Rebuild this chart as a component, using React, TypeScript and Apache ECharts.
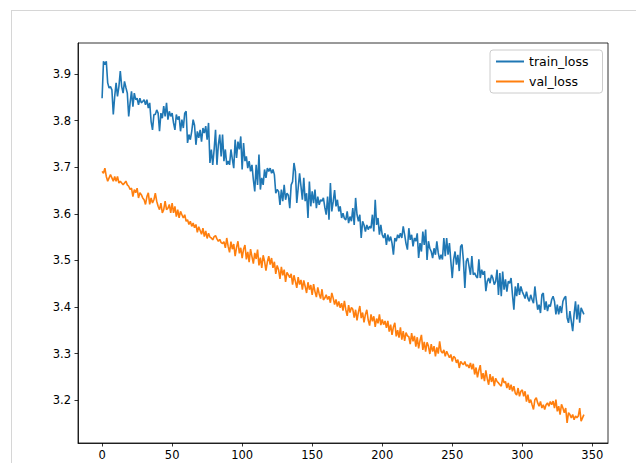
import React, { useEffect, useRef } from "react";
import * as echarts from "echarts";

const trainLoss: number[] = [
  3.848, 3.927, 3.920, 3.927, 3.881, 3.870, 3.873, 3.866, 3.813, 3.852, 3.881, 3.852, 3.873, 3.906, 3.873, 3.859, 3.884, 3.871, 3.859, 3.809, 3.838, 3.863, 3.830, 3.859, 3.845, 3.848, 3.834, 3.848, 3.838, 3.841, 3.845, 3.834, 3.845, 3.827, 3.838, 3.798, 3.780, 3.813,
  3.813, 3.823, 3.816, 3.777, 3.816, 3.805, 3.831, 3.809, 3.838, 3.802, 3.820, 3.809, 3.816, 3.795, 3.780, 3.813, 3.802, 3.809, 3.777, 3.802, 3.784, 3.816, 3.820, 3.752, 3.770, 3.759, 3.777, 3.802, 3.790, 3.748, 3.777, 3.763, 3.780, 3.755, 3.784, 3.773, 3.788, 3.759, 3.795, 3.709,
  3.738, 3.705, 3.738, 3.780, 3.705, 3.748, 3.770, 3.723, 3.770, 3.713, 3.738, 3.705, 3.713, 3.705, 3.738, 3.717, 3.698, 3.759, 3.720, 3.755, 3.738, 3.766, 3.695, 3.752, 3.713, 3.723, 3.698, 3.713, 3.691, 3.705, 3.673, 3.648, 3.705, 3.662, 3.727, 3.652, 3.677, 3.662, 3.695, 3.677, 3.698,
  3.691, 3.698, 3.687, 3.695, 3.684, 3.644, 3.652, 3.648, 3.619, 3.652, 3.627, 3.662, 3.630, 3.644, 3.640, 3.612, 3.662, 3.669, 3.709, 3.691, 3.623, 3.655, 3.687, 3.659, 3.630, 3.677, 3.627, 3.644, 3.591, 3.669, 3.616, 3.648, 3.623, 3.652, 3.612, 3.637, 3.619, 3.630, 3.627, 3.634,
  3.614, 3.598, 3.637, 3.587, 3.666, 3.605, 3.626, 3.651, 3.616, 3.630, 3.605, 3.616, 3.591, 3.601, 3.590, 3.587, 3.605, 3.580, 3.594, 3.584, 3.612, 3.576, 3.634, 3.598, 3.584, 3.598, 3.548, 3.584, 3.576, 3.562, 3.576, 3.566, 3.573, 3.569, 3.598, 3.562, 3.630, 3.576, 3.591, 3.555, 3.576,
  3.555, 3.548, 3.558, 3.533, 3.555, 3.541, 3.551, 3.537, 3.512, 3.548, 3.541, 3.555, 3.548, 3.558, 3.548, 3.573, 3.555, 3.536, 3.523, 3.569, 3.544, 3.555, 3.530, 3.548, 3.541, 3.558, 3.505, 3.537, 3.519, 3.562, 3.533, 3.566, 3.501, 3.541, 3.526, 3.519, 3.505, 3.526, 3.512, 3.541, 3.516,
  3.502, 3.512, 3.502, 3.548, 3.509, 3.548, 3.512, 3.537, 3.498, 3.462, 3.502, 3.519, 3.491, 3.512, 3.477, 3.530, 3.534, 3.498, 3.441, 3.498, 3.505, 3.487, 3.469, 3.509, 3.469, 3.473, 3.466, 3.462, 3.502, 3.462, 3.480, 3.469, 3.477, 3.434, 3.455, 3.462, 3.451, 3.469, 3.462, 3.448, 3.455,
  3.480, 3.426, 3.473, 3.423, 3.476, 3.437, 3.459, 3.433, 3.455, 3.451, 3.462, 3.426, 3.394, 3.444, 3.423, 3.451, 3.426, 3.444, 3.433, 3.426, 3.418, 3.433, 3.419, 3.412, 3.426, 3.416, 3.408, 3.444, 3.416, 3.394, 3.405, 3.387, 3.426, 3.430, 3.394, 3.412, 3.391, 3.405, 3.401, 3.416,
  3.423, 3.412, 3.384, 3.405, 3.384, 3.402, 3.387, 3.412, 3.419, 3.423, 3.377, 3.366, 3.391, 3.369, 3.348, 3.384, 3.412, 3.373, 3.405, 3.366, 3.398, 3.391, 3.384,
];

const valLoss: number[] = [
  3.691, 3.687, 3.698, 3.680, 3.670, 3.677, 3.684, 3.677, 3.670, 3.680, 3.670, 3.680, 3.666, 3.670, 3.666, 3.662, 3.666, 3.670, 3.662, 3.659, 3.652, 3.655, 3.637, 3.652, 3.645, 3.655, 3.634, 3.645, 3.641, 3.634, 3.630, 3.620, 3.637, 3.645, 3.620, 3.634, 3.623, 3.630,
  3.644, 3.627, 3.616, 3.609, 3.623, 3.602, 3.609, 3.627, 3.609, 3.612, 3.620, 3.602, 3.623, 3.602, 3.616, 3.594, 3.609, 3.591, 3.605, 3.598, 3.591, 3.598, 3.584, 3.587, 3.577, 3.584, 3.573, 3.580, 3.570, 3.577, 3.560, 3.572, 3.564, 3.556, 3.569, 3.551, 3.563, 3.547, 3.558, 3.550,
  3.548, 3.544, 3.551, 3.553, 3.546, 3.541, 3.545, 3.538, 3.536, 3.540, 3.527, 3.548, 3.530, 3.517, 3.540, 3.524, 3.535, 3.509, 3.528, 3.541, 3.515, 3.527, 3.505, 3.524, 3.533, 3.502, 3.518, 3.496, 3.524, 3.508, 3.493, 3.516, 3.503, 3.523, 3.489, 3.506, 3.484, 3.511, 3.498, 3.478, 3.497,
  3.509, 3.491, 3.505, 3.484, 3.497, 3.471, 3.489, 3.480, 3.460, 3.486, 3.468, 3.480, 3.454, 3.474, 3.469, 3.463, 3.471, 3.448, 3.468, 3.455, 3.441, 3.464, 3.448, 3.458, 3.437, 3.457, 3.444, 3.430, 3.453, 3.437, 3.447, 3.426, 3.449, 3.433, 3.421, 3.442, 3.428, 3.418, 3.438, 3.415,
  3.419, 3.426, 3.416, 3.423, 3.409, 3.430, 3.419, 3.405, 3.416, 3.401, 3.412, 3.398, 3.408, 3.392, 3.413, 3.394, 3.381, 3.404, 3.388, 3.399, 3.395, 3.377, 3.394, 3.371, 3.389, 3.402, 3.376, 3.388, 3.367, 3.384, 3.394, 3.372, 3.360, 3.384, 3.369, 3.380, 3.357, 3.375, 3.365, 3.384, 3.361,
  3.373, 3.362, 3.370, 3.355, 3.370, 3.347, 3.362, 3.340, 3.357, 3.366, 3.337, 3.350, 3.334, 3.356, 3.330, 3.348, 3.327, 3.345, 3.338, 3.336, 3.320, 3.344, 3.326, 3.338, 3.315, 3.335, 3.311, 3.328, 3.340, 3.308, 3.325, 3.304, 3.324, 3.316, 3.299, 3.320, 3.304, 3.316, 3.294, 3.313, 3.300,
  3.326, 3.305, 3.301, 3.308, 3.294, 3.305, 3.298, 3.291, 3.298, 3.283, 3.294, 3.291, 3.280, 3.287, 3.269, 3.283, 3.279, 3.276, 3.283, 3.273, 3.276, 3.269, 3.280, 3.266, 3.278, 3.255, 3.270, 3.249, 3.264, 3.275, 3.245, 3.258, 3.241, 3.264, 3.246, 3.233, 3.256, 3.239, 3.251, 3.230, 3.247,
  3.240, 3.237, 3.233, 3.230, 3.248, 3.237, 3.240, 3.226, 3.237, 3.222, 3.233, 3.219, 3.230, 3.215, 3.211, 3.226, 3.208, 3.219, 3.222, 3.208, 3.219, 3.197, 3.212, 3.194, 3.201, 3.190, 3.180, 3.201, 3.205, 3.194, 3.187, 3.197, 3.183, 3.190, 3.180, 3.190, 3.194, 3.187, 3.197, 3.190,
  3.198, 3.183, 3.201, 3.176, 3.187, 3.169, 3.191, 3.183, 3.173, 3.183, 3.151, 3.173, 3.169, 3.162, 3.169, 3.158, 3.166, 3.162, 3.166, 3.183, 3.155, 3.162, 3.169,
];

const xTicks: number[] = [0, 50, 100, 150, 200, 250, 300, 350];
const yTicks: number[] = [3.2, 3.3, 3.4, 3.5, 3.6, 3.7, 3.8, 3.9];
const seriesNames: string[] = ["train_loss", "val_loss"];

const FONT = "DejaVu Sans";

export default function App() {
  const ref = useRef<HTMLDivElement>(null);
  useEffect(() => {
    const chart = echarts.init(ref.current!, null, { renderer: "svg" });
    const toPairs = (arr: number[]) => arr.map((v, i) => [i, v]);
    chart.setOption({
      animation: false,
      backgroundColor: "#ffffff",
      textStyle: { fontFamily: FONT },
      grid: {
        left: 78,
        top: 43,
        right: 28,
        bottom: 20,
        show: true,
        borderColor: "#000000",
        borderWidth: 0.8,
        backgroundColor: "transparent",
      },
      graphic: [
        { type: "line", shape: { x1: 11, y1: 10.5, x2: 636, y2: 10.5 }, style: { stroke: "#d6d6d6", lineWidth: 1 } },
        { type: "line", shape: { x1: 11.5, y1: 10, x2: 11.5, y2: 463 }, style: { stroke: "#d6d6d6", lineWidth: 1 } },
      ],
      legend: {
        orient: "vertical",
        left: 490,
        top: 50,
        padding: [5, 14, 5, 6],
        itemGap: 7,
        itemWidth: 28,
        itemHeight: 2,
        icon: "rect",
        backgroundColor: "rgba(255,255,255,0.8)",
        borderColor: "#cccccc",
        borderWidth: 1,
        borderRadius: 3,
        textStyle: { fontFamily: FONT, fontSize: 12.5, color: "#000" },
        data: seriesNames,
      },
      xAxis: {
        type: "value",
        min: -17.2,
        max: 361.2,
        splitLine: { show: false },
        axisLine: { show: true, onZero: false, lineStyle: { color: "#000", width: 0.8 } },
        axisTick: { show: true, length: 3.5, lineStyle: { color: "#000", width: 0.8 }, customValues: xTicks },
        axisLabel: { customValues: xTicks, color: "#000", fontFamily: FONT, fontSize: 11.5, margin: 6 },
      },
      yAxis: {
        type: "value",
        min: 3.108,
        max: 3.9665,
        splitLine: { show: false },
        axisLine: { show: true, onZero: false, lineStyle: { color: "#000", width: 0.8 } },
        axisTick: { show: true, length: 3.5, lineStyle: { color: "#000", width: 0.8 }, customValues: yTicks },
        axisLabel: {
          customValues: yTicks,
          color: "#000",
          fontFamily: FONT,
          fontSize: 11.5,
          margin: 7,
          formatter: (v: number) => v.toFixed(1),
        },
      },
      series: [
        {
          name: seriesNames[0],
          type: "line",
          data: toPairs(trainLoss),
          symbol: "none",
          showSymbol: false,
          lineStyle: { color: "#1f77b4", width: 1.6 },
          itemStyle: { color: "#1f77b4" },
        },
        {
          name: seriesNames[1],
          type: "line",
          data: toPairs(valLoss),
          symbol: "none",
          showSymbol: false,
          lineStyle: { color: "#ff7f0e", width: 1.6 },
          itemStyle: { color: "#ff7f0e" },
        },
      ],
    });
    return () => chart.dispose();
  }, []);
  return (
    <div
      ref={ref}
      style={{ position: "fixed", left: 0, top: 0, width: 636, height: 463, background: "#fff" }}
    />
  );
}
